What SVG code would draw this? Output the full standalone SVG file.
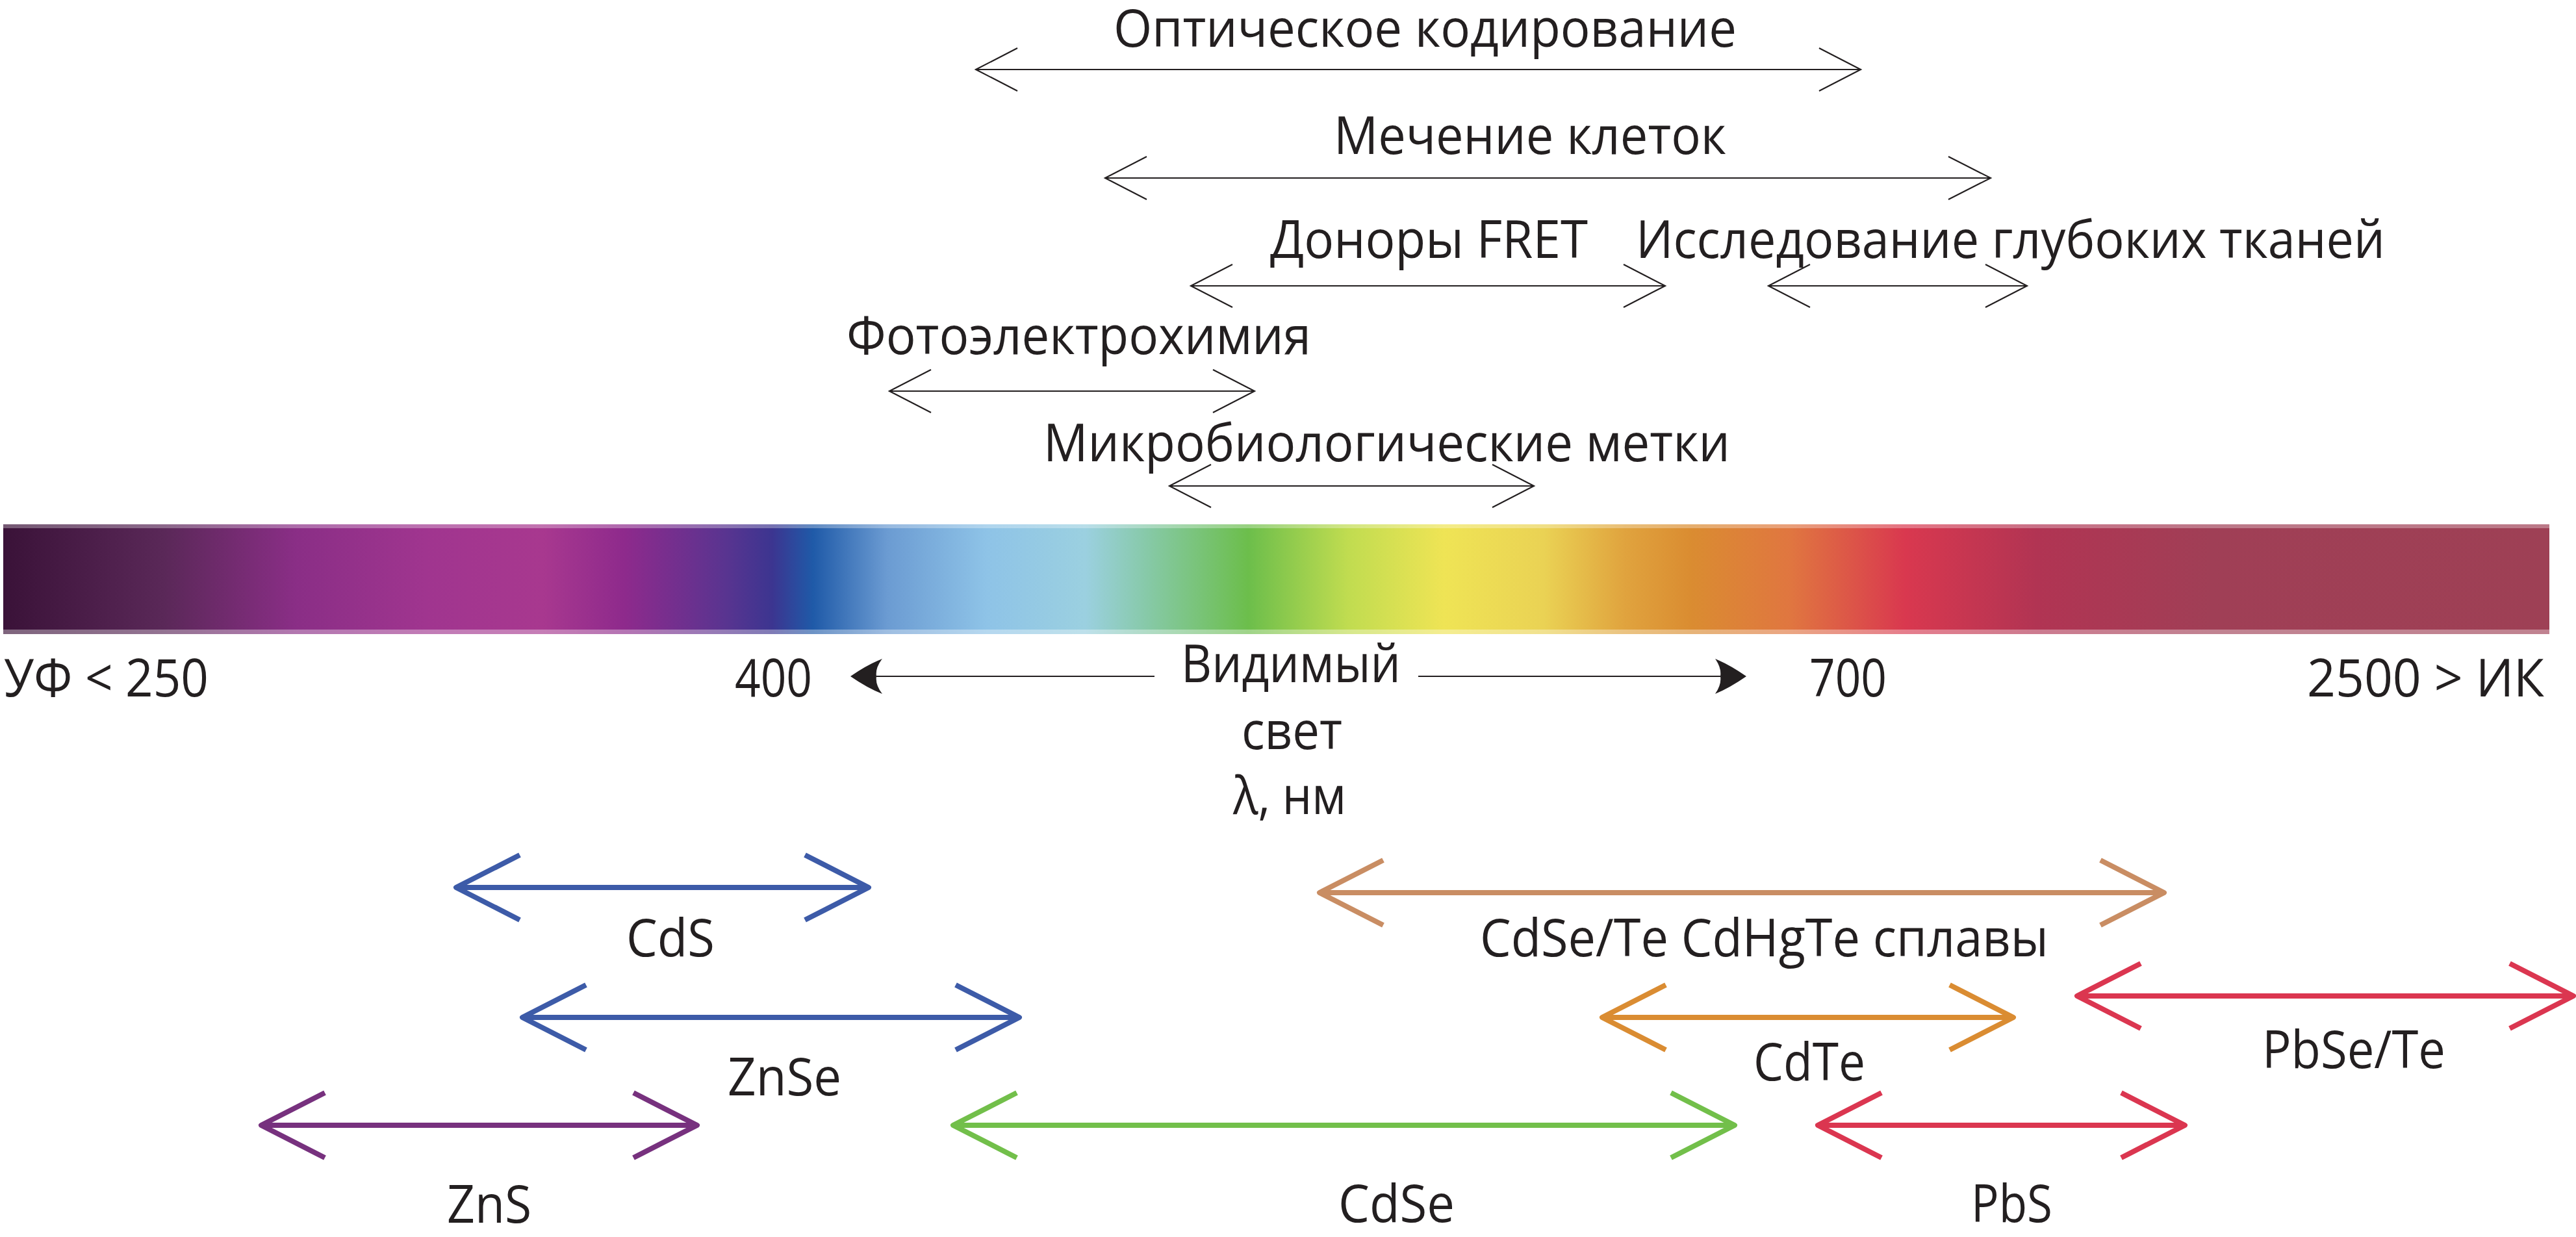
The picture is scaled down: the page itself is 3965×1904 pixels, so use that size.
<svg xmlns="http://www.w3.org/2000/svg" width="3965" height="1904" viewBox="0 0 3965 1904">
<style>
  text { font-family: "Open Sans", "Noto Sans", "Liberation Sans", sans-serif; font-size: 81px; fill: #231f20; }
  .thin { fill: none; stroke: #231f20; stroke-width: 2.2; stroke-linejoin: miter; }
  .thick { fill: none; stroke-width: 8; stroke-linejoin: round; stroke-linecap: butt; }
  .blue { stroke: #3d5ba8; }
  .purple { stroke: #77317e; }
  .green { stroke: #72bf4a; }
  .tan { stroke: #c98d63; }
  .orange { stroke: #da8c32; }
  .red { stroke: #db3650; }
  .head { fill: #231f20; stroke: none; }
</style>
<defs>
  <linearGradient id="spec" x1="5" y1="0" x2="3924" y2="0" gradientUnits="userSpaceOnUse">
    <stop offset="0" stop-color="#3a1238"/>
    <stop offset="0.063" stop-color="#5a2858"/>
    <stop offset="0.115" stop-color="#8a2e86"/>
    <stop offset="0.166" stop-color="#a0358f"/>
    <stop offset="0.212" stop-color="#a8388f"/>
    <stop offset="0.244" stop-color="#8e2a8c"/>
    <stop offset="0.283" stop-color="#5a3490"/>
    <stop offset="0.302" stop-color="#3c3590"/>
    <stop offset="0.318" stop-color="#1f5aa8"/>
    <stop offset="0.347" stop-color="#6b9bd2"/>
    <stop offset="0.386" stop-color="#8ec3e7"/>
    <stop offset="0.425" stop-color="#9bd0e0"/>
    <stop offset="0.450" stop-color="#86c9a6"/>
    <stop offset="0.489" stop-color="#6cbe4b"/>
    <stop offset="0.528" stop-color="#c0dc50"/>
    <stop offset="0.566" stop-color="#efe455"/>
    <stop offset="0.605" stop-color="#ead254"/>
    <stop offset="0.637" stop-color="#e0a33e"/>
    <stop offset="0.663" stop-color="#da8c31"/>
    <stop offset="0.702" stop-color="#e07640"/>
    <stop offset="0.747" stop-color="#d9384f"/>
    <stop offset="0.799" stop-color="#b13453"/>
    <stop offset="0.867" stop-color="#a03f56"/>
    <stop offset="1" stop-color="#9e4055"/>
  </linearGradient>
</defs>
<rect width="3965" height="1904" fill="#ffffff"/>

<g id="spectrum">
  <rect x="5" y="807" width="3919" height="169" fill="url(#spec)"/>
  <rect x="5" y="807" width="3919" height="6" fill="#ffffff" opacity="0.3"/>
  <rect x="5" y="969" width="3919" height="7" fill="#ffffff" opacity="0.35"/>
</g>

<g id="connectors">
  <!-- thin black application ranges -->
  <path class="thin" d="M1502,107 H2864 M1566,74 L1502,107 L1566,140 M2800,74 L2864,107 L2800,140"/>
  <path class="thin" d="M1701,274 H3064 M1765,241 L1701,274 L1765,307 M2999,241 L3064,274 L2999,307"/>
  <path class="thin" d="M1833,440 H2563 M1897,407 L1833,440 L1897,473 M2499,407 L2563,440 L2499,473"/>
  <path class="thin" d="M2722,440 H3120 M2786,407 L2722,440 L2786,473 M3056,407 L3120,440 L3056,473"/>
  <path class="thin" d="M1369,602 H1931 M1433,569 L1369,602 L1433,635 M1867,569 L1931,602 L1867,635"/>
  <path class="thin" d="M1800,748 H2361 M1864,715 L1800,748 L1864,781 M2297,715 L2361,748 L2297,781"/>

  <!-- visible light arrows -->
  <path class="thin" d="M1349,1041 H1777"/>
  <path class="head" d="M1309,1041 Q1335,1023 1358,1014 Q1347,1028 1349,1041 Q1347,1054 1358,1068 Q1335,1059 1309,1041 Z"/>
  <path class="thin" d="M2183,1041 H2648"/>
  <path class="head" d="M2688,1041 Q2662,1023 2640,1014 Q2650,1028 2648,1041 Q2650,1054 2640,1068 Q2662,1059 2688,1041 Z"/>

  <!-- material ranges -->
  <path class="thick blue" d="M702,1366 H1337 M800,1316 L702,1366 L800,1416 M1239,1316 L1337,1366 L1239,1416"/>
  <path class="thick tan" d="M2031,1374 H3331 M2129,1324 L2031,1374 L2129,1424 M3233,1324 L3331,1374 L3233,1424"/>
  <path class="thick blue" d="M804,1566 H1569 M902,1516 L804,1566 L902,1616 M1471,1516 L1569,1566 L1471,1616"/>
  <path class="thick orange" d="M2466,1566 H3099 M2564,1516 L2466,1566 L2564,1616 M3001,1516 L3099,1566 L3001,1616"/>
  <path class="thick red" d="M3197,1533 H3961 M3295,1483 L3197,1533 L3295,1583 M3863,1483 L3961,1533 L3863,1583"/>
  <path class="thick purple" d="M402,1732 H1073 M500,1682 L402,1732 L500,1782 M975,1682 L1073,1732 L975,1782"/>
  <path class="thick green" d="M1467,1732 H2670 M1565,1682 L1467,1732 L1565,1782 M2572,1682 L2670,1732 L2572,1782"/>
  <path class="thick red" d="M2798,1732 H3363 M2896,1682 L2798,1732 L2896,1782 M3265,1682 L3363,1732 L3265,1782"/>
</g>

<g id="label-optical"><text x="1714" y="72" textLength="959" lengthAdjust="spacingAndGlyphs">Оптическое кодирование</text></g>
<g id="label-cells"><text x="2053" y="237" textLength="604" lengthAdjust="spacingAndGlyphs">Мечение клеток</text></g>
<g id="label-fret"><text x="1955" y="397" textLength="489" lengthAdjust="spacingAndGlyphs">Доноры FRET</text></g>
<g id="label-deep"><text x="2518" y="397" textLength="1153" lengthAdjust="spacingAndGlyphs">Исследование глубоких тканей</text></g>
<g id="label-photo"><text x="1303" y="545" textLength="715" lengthAdjust="spacingAndGlyphs">Фотоэлектрохимия</text></g>
<g id="label-micro"><text x="1606" y="710" textLength="1057" lengthAdjust="spacingAndGlyphs">Микробиологические метки</text></g>

<g id="label-uv"><text x="6" y="1072" textLength="315" lengthAdjust="spacingAndGlyphs">УФ &lt; 250</text></g>
<g id="label-400"><text x="1131" y="1072" textLength="119" lengthAdjust="spacingAndGlyphs">400</text></g>
<g id="label-visible">
  <text x="1818" y="1050" textLength="338" lengthAdjust="spacingAndGlyphs">Видимый</text>
  <text x="1911" y="1153" textLength="155" lengthAdjust="spacingAndGlyphs">свет</text>
  <text x="1898" y="1253" textLength="174" lengthAdjust="spacingAndGlyphs">λ, нм</text>
</g>
<g id="label-700"><text x="2785" y="1072" textLength="119" lengthAdjust="spacingAndGlyphs">700</text></g>
<g id="label-ir"><text x="3551" y="1072" textLength="365" lengthAdjust="spacingAndGlyphs">2500 &gt; ИК</text></g>

<g id="label-cds"><text x="964" y="1472" textLength="136" lengthAdjust="spacingAndGlyphs">CdS</text></g>
<g id="label-alloys"><text x="2278" y="1472" textLength="875" lengthAdjust="spacingAndGlyphs">CdSe/Te CdHgTe сплавы</text></g>
<g id="label-znse"><text x="1120" y="1686" textLength="175" lengthAdjust="spacingAndGlyphs">ZnSe</text></g>
<g id="label-cdte"><text x="2699" y="1663" textLength="172" lengthAdjust="spacingAndGlyphs">CdTe</text></g>
<g id="label-pbsete"><text x="3482" y="1644" textLength="282" lengthAdjust="spacingAndGlyphs">PbSe/Te</text></g>
<g id="label-zns"><text x="688" y="1882" textLength="130" lengthAdjust="spacingAndGlyphs">ZnS</text></g>
<g id="label-cdse"><text x="2060" y="1881" textLength="179" lengthAdjust="spacingAndGlyphs">CdSe</text></g>
<g id="label-pbs"><text x="3034" y="1881" textLength="125" lengthAdjust="spacingAndGlyphs">PbS</text></g>
</svg>
